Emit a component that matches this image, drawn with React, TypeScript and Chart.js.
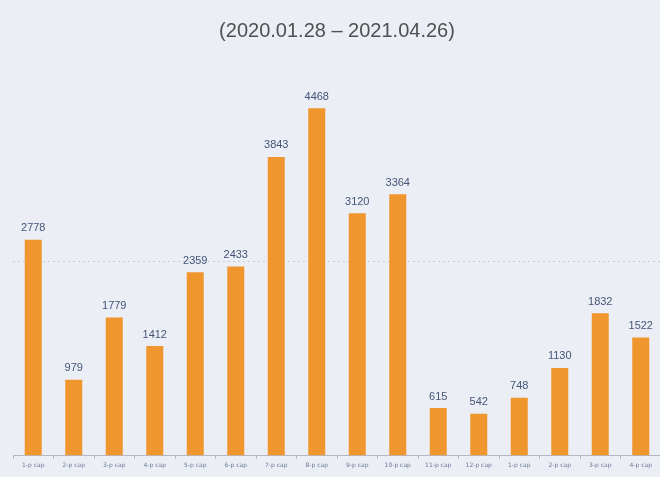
import React, { useEffect, useRef } from "react";
import { Chart, registerables } from "chart.js";

Chart.register(...registerables);

const title = "(2020.01.28 – 2021.04.26)";
const categories = [
  "1-р сар", "2-р сар", "3-р сар", "4-р сар", "5-р сар", "6-р сар", "7-р сар", "8-р сар",
  "9-р сар", "10-р сар", "11-р сар", "12-р сар", "1-р сар", "2-р сар", "3-р сар", "4-р сар",
];
const values = [2778, 979, 1779, 1412, 2359, 2433, 3843, 4468, 3120, 3364, 615, 542, 748, 1130, 1832, 1522];

const valueLabels = {
  id: "valueLabels",
  afterDatasetsDraw(chart: any) {
    const ctx = chart.ctx;
    const meta = chart.getDatasetMeta(0);
    ctx.save();
    ctx.fillStyle = "#435577";
    ctx.font = "11px 'Liberation Sans Narrow', 'Liberation Sans', Arial, sans-serif";
    ctx.textAlign = "center";
    ctx.textBaseline = "bottom";
    meta.data.forEach((bar: any, i: number) => {
      ctx.fillText(String(values[i]), bar.x, bar.y - 6);
    });
    ctx.restore();
  },
};

export default function App() {
  const ref = useRef<HTMLCanvasElement>(null);
  useEffect(() => {
    document.body.style.margin = "0";
    const chart = new Chart(ref.current!, {
      type: "bar",
      data: {
        labels: categories,
        datasets: [
          {
            data: values,
            backgroundColor: "#f0962f",
            barPercentage: 0.42,
            categoryPercentage: 1,
          },
        ],
      },
      options: {
        animation: false,
        responsive: false,
        maintainAspectRatio: false,
        layout: { padding: { left: 13, right: 0, top: 0, bottom: 5 } },
        plugins: {
          legend: { display: false },
          tooltip: { enabled: false },
          title: {
            display: true,
            text: title,
            color: "#505050",
            font: { size: 20, family: "'Liberation Sans', Arial, sans-serif", weight: "normal" },
            padding: { top: 19, bottom: 24 },
          },
        },
        scales: {
          x: {
            grid: { display: true, drawOnChartArea: false, tickLength: 3, color: "#b5b8c4", offset: true },
            border: { display: true, color: "#b5b8c4" },
            ticks: {
              color: "#6a7896",
              font: { size: 6, family: "'DejaVu Sans', sans-serif" },
              maxRotation: 0,
              autoSkip: false,
              padding: 3,
            },
          },
          y: {
            display: true,
            min: 0,
            max: 5000,
            ticks: { display: false, stepSize: 2500 },
            border: { display: false, dash: [2, 3] },
            grid: {
              drawTicks: false,
              color: (c: any) => (c.tick && c.tick.value === 2500 ? "rgba(175,180,200,0.6)" : "rgba(0,0,0,0)"),
            },
            afterFit: (s: any) => { s.width = 0; },
          },
        },
      },
      plugins: [valueLabels],
    });
    return () => chart.destroy();
  }, []);
  return (
    <div style={{ width: 660, height: 477, overflow: "hidden", background: "#eceef5", position: "relative" }}>
      <canvas ref={ref} width={661} height={477} style={{ display: "block" }} />
    </div>
  );
}
